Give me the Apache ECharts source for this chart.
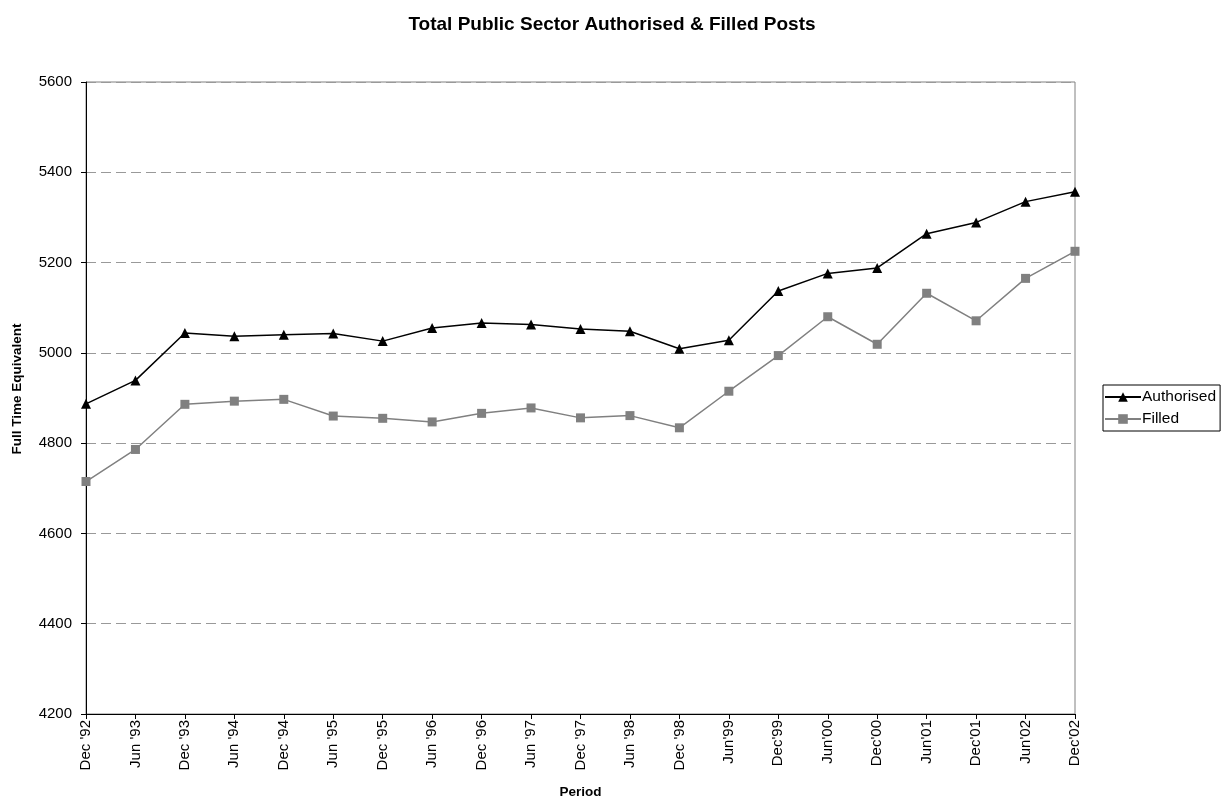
<!DOCTYPE html>
<html>
<head>
<meta charset="utf-8">
<script src="https://cdn.jsdelivr.net/npm/echarts@6/dist/echarts.min.js"></script>
<style>
  html, body { margin: 0; padding: 0; background: #fff; }
  #chart { width: 1224px; height: 800px; }
</style>
</head>
<body>
<div id="chart"></div>
<script>
// Half-yearly reporting periods
const periods = ["Dec '92", "Jun '93", "Dec '93", "Jun '94", "Dec '94", "Jun '95", "Dec '95",
  "Jun '96", "Dec '96", "Jun '97", "Dec '97", "Jun '98", "Dec '98", "Jun'99", "Dec'99",
  "Jun'00", "Dec'00", "Jun'01", "Dec'01", "Jun'02", "Dec'02"];

// Full time equivalent posts
const authorised = [4887, 4939, 5044, 5037, 5040, 5043, 5026, 5055, 5066, 5063, 5053,
  5048, 5009, 5028, 5137, 5176, 5188, 5264, 5289, 5335, 5357];
const filled = [4715, 4786, 4886, 4893, 4897, 4860, 4855, 4847, 4866, 4878, 4856,
  4861, 4834, 4915, 4994, 5080, 5019, 5132, 5071, 5165, 5225];

const font = 'Arial, "Liberation Sans", sans-serif';

const chart = echarts.init(document.getElementById('chart'), null, { renderer: 'canvas' });
chart.setOption({
  animation: false,
  backgroundColor: '#fff',
  title: {
    text: 'Total Public Sector Authorised & Filled Posts',
    left: 'center', top: 10,
    padding: [5, 0, 5, 0],
    textStyle: { fontFamily: font, fontSize: 19, fontWeight: 'bold', color: '#000' }
  },
  grid: {
    left: 86, right: 149, top: 82, bottom: 86,
    containLabel: false,
    outerBoundsMode: 'none',
    show: true, borderColor: '#808080', borderWidth: 1, backgroundColor: '#fff'
  },
  legend: {
    orient: 'vertical',
    left: 1103, top: 385,
    padding: [4, 4, 4, 1],
    itemGap: 6,
    itemWidth: 36, itemHeight: 12,
    borderColor: '#000', borderWidth: 1, borderRadius: 0,
    backgroundColor: '#fff',
    textStyle: { fontFamily: font, fontSize: 15.5, color: '#000', padding: [0, 0, 0, -4] },
    data: ['Authorised', 'Filled']
  },
  xAxis: {
    type: 'category',
    data: periods,
    boundaryGap: false,
    name: 'Period',
    nameLocation: 'middle',
    nameGap: 71,
    nameTextStyle: { fontFamily: font, fontSize: 13.5, fontWeight: 'bold', color: '#000' },
    axisLine: { lineStyle: { color: '#000', width: 1 } },
    axisTick: { show: true, length: 5, lineStyle: { color: '#000' } },
    axisLabel: { rotate: 90, interval: 0, fontFamily: font, fontSize: 15, color: '#000', margin: 6 },
    splitLine: { show: false }
  },
  yAxis: {
    type: 'value',
    min: 4200, max: 5600, interval: 200,
    name: 'Full Time Equivalent',
    nameLocation: 'middle',
    nameGap: 62,
    nameRotate: 90,
    nameTextStyle: { fontFamily: font, fontSize: 13.5, fontWeight: 'bold', color: '#000', padding: [0, 0, 0, 18] },
    axisLine: { show: true, lineStyle: { color: '#000', width: 1 } },
    axisTick: { show: true, length: 5, lineStyle: { color: '#000' } },
    axisLabel: { fontFamily: font, fontSize: 15, color: '#000', margin: 14, formatter: v => String(v) },
    splitLine: { show: true, lineStyle: { color: '#999', type: [10, 5], width: 1 } }
  },
  series: [
    {
      name: 'Authorised',
      type: 'line',
      data: authorised,
      symbol: 'triangle',
      symbolSize: 10,
      lineStyle: { color: '#000', width: 1.5 },
      itemStyle: { color: '#000' },
      z: 3
    },
    {
      name: 'Filled',
      type: 'line',
      data: filled,
      symbol: 'rect',
      symbolSize: 9,
      lineStyle: { color: '#808080', width: 1.5 },
      itemStyle: { color: '#808080' },
      z: 2
    }
  ]
});
</script>
</body>
</html>
